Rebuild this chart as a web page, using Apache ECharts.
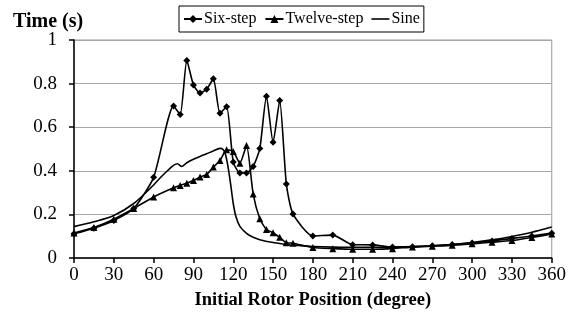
<!DOCTYPE html>
<html>
<head>
<meta charset="utf-8">
<script src="https://cdn.jsdelivr.net/npm/echarts@6/dist/echarts.min.js"></script>
<style>
  html, body { margin: 0; padding: 0; background: #fff; }
  #chart { width: 569px; height: 326px; }
</style>
</head>
<body>
<div id="chart"></div>
<script>
// Initial rotor position (degree) for each sampled point
const sixStepX = [0, 15, 30, 45, 60, 75, 80, 85, 90, 95, 100, 105, 110, 115, 120, 125, 130, 135, 140, 145, 150, 155, 160, 165, 180, 195, 210, 225, 240, 255, 270, 285, 300, 315, 330, 345, 360];
const sixStepY = [0.111, 0.137, 0.172, 0.227, 0.370, 0.697, 0.658, 0.906, 0.794, 0.757, 0.774, 0.822, 0.664, 0.694, 0.440, 0.390, 0.390, 0.420, 0.502, 0.742, 0.531, 0.722, 0.340, 0.202, 0.101, 0.105, 0.061, 0.060, 0.050, 0.052, 0.056, 0.062, 0.069, 0.078, 0.090, 0.101, 0.114];

const twelveStepX = [0, 15, 30, 45, 60, 75, 80, 85, 90, 95, 100, 105, 110, 115, 120, 125, 130, 135, 140, 145, 150, 155, 160, 165, 180, 195, 210, 225, 240, 255, 270, 285, 300, 315, 330, 345, 360];
const twelveStepY = [0.115, 0.140, 0.178, 0.227, 0.280, 0.322, 0.333, 0.343, 0.356, 0.371, 0.383, 0.417, 0.447, 0.496, 0.489, 0.435, 0.516, 0.294, 0.180, 0.131, 0.116, 0.095, 0.070, 0.068, 0.048, 0.043, 0.040, 0.040, 0.043, 0.050, 0.054, 0.058, 0.065, 0.072, 0.080, 0.094, 0.110];

const sineX = [0, 15, 30, 45, 60, 65, 70, 75, 78, 81, 85, 90, 95, 100, 105, 110, 112, 114, 116, 118, 120, 122, 125, 130, 135, 140, 150, 160, 170, 180, 195, 210, 225, 240, 255, 270, 285, 300, 315, 330, 345, 360];
const sineY = [0.144, 0.166, 0.195, 0.250, 0.335, 0.368, 0.398, 0.425, 0.432, 0.420, 0.437, 0.453, 0.466, 0.478, 0.491, 0.503, 0.500, 0.478, 0.420, 0.340, 0.250, 0.190, 0.145, 0.113, 0.095, 0.084, 0.071, 0.062, 0.057, 0.053, 0.050, 0.049, 0.049, 0.050, 0.052, 0.056, 0.062, 0.071, 0.083, 0.099, 0.118, 0.142];

const seriesNames = ['Six-step', 'Twelve-step', 'Sine'];

const pairs = (xs, ys) => xs.map((x, i) => [x, ys[i]]);
const FONT = '"Liberation Serif", "Times New Roman", serif';

const chart = echarts.init(document.getElementById('chart'), null, { renderer: 'canvas' });

chart.setOption({
  animation: false,
  backgroundColor: '#fff',
  textStyle: { fontFamily: FONT, color: '#000' },
  title: {
    text: 'Time (s)',
    left: 8,
    top: 7,
    textStyle: { fontFamily: FONT, fontSize: 20, fontWeight: 'bold', color: '#000' }
  },
  legend: {
    top: 6,
    left: 179,
    data: [
      { name: seriesNames[0] },
      { name: seriesNames[1] },
      // plain line swatch for the unmarked series
      { name: seriesNames[2], icon: 'path://M0,0 L18,0 L18,1.6 L0,1.6 Z' }
    ],
    itemWidth: 18,
    itemHeight: 10,
    itemGap: 8,
    padding: [5, 4, 5, 4],
    borderColor: '#000',
    borderWidth: 1,
    textStyle: { fontFamily: FONT, fontSize: 16, color: '#000', padding: [0, 0, 0, -3] }
  },
  grid: {
    left: 74,
    right: 16,
    top: 40,
    bottom: 68,
    show: true,
    borderColor: '#999',
    borderWidth: 1
  },
  xAxis: {
    type: 'value',
    min: 0,
    max: 360,
    interval: 30,
    name: 'Initial Rotor Position (degree)',
    nameLocation: 'middle',
    nameGap: 33,
    nameTextStyle: { fontFamily: FONT, fontSize: 18.5, fontWeight: 'bold', color: '#000' },
    axisLine: { lineStyle: { color: '#000', width: 1.5 } },
    axisTick: { show: true, length: 5, lineStyle: { color: '#000', width: 1.5 } },
    axisLabel: { fontFamily: FONT, fontSize: 19, color: '#000', margin: 8 },
    splitLine: { show: false }
  },
  yAxis: {
    type: 'value',
    min: 0,
    max: 1,
    interval: 0.2,
    axisLine: { show: true, lineStyle: { color: '#000', width: 1.5 } },
    axisTick: { show: true, length: 5, lineStyle: { color: '#000', width: 1.5 } },
    axisLabel: { fontFamily: FONT, fontSize: 19, color: '#000', margin: 17 },
    splitLine: { show: true, lineStyle: { color: '#a8a8a8', width: 1.2 } }
  },
  series: [
    {
      name: seriesNames[0],
      type: 'line',
      data: pairs(sixStepX, sixStepY),
      smooth: 0.2,
      symbol: 'diamond',
      symbolSize: 7,
      itemStyle: { color: '#000' },
      lineStyle: { color: '#000', width: 1.6 },
      z: 3
    },
    {
      name: seriesNames[1],
      type: 'line',
      data: pairs(twelveStepX, twelveStepY),
      smooth: 0.2,
      symbol: 'triangle',
      symbolSize: 7,
      itemStyle: { color: '#000' },
      lineStyle: { color: '#000', width: 1.6 },
      z: 3
    },
    {
      name: seriesNames[2],
      type: 'line',
      data: pairs(sineX, sineY),
      smooth: 0.3,
      symbol: 'none',
      itemStyle: { color: '#000' },
      lineStyle: { color: '#000', width: 1.6 },
      z: 2
    }
  ]
});
</script>
</body>
</html>
